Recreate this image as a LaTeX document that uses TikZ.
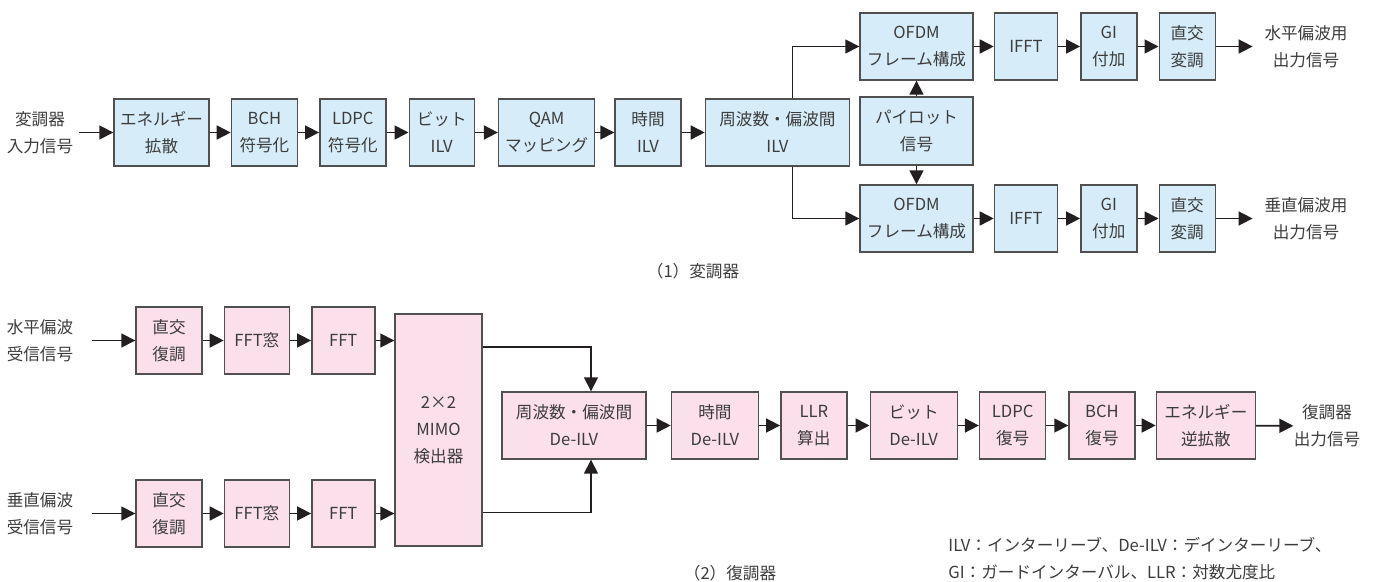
\documentclass[tikz,border=0pt]{standalone}
\usepackage{fontspec}
\setmainfont{Noto Sans CJK JP}
\usepackage{xcolor}
\usepackage{tikz}
\usetikzlibrary{arrows.meta,positioning}
\definecolor{txfill}{HTML}{D6EDF9}
\definecolor{rxfill}{HTML}{FBDFEA}
\definecolor{boxline}{HTML}{505050}
\definecolor{inkgray}{HTML}{3C3C3C}
\definecolor{wire}{HTML}{231F20}

\begin{document}
\begin{tikzpicture}[x=0.5pt, y=-0.5pt,
  font=\fontsize{8.3}{13.5}\selectfont, text=inkgray,
  tx/.style={draw=boxline, fill=txfill, line width=.7pt, minimum height=33.5pt, inner sep=0pt, align=center},
  rx/.style={draw=boxline, fill=rxfill, line width=.7pt, minimum height=33.5pt, inner sep=0pt, align=center},
  edge/.style={-{Triangle[length=7pt,width=7pt]}, draw=wire, line width=.8pt},
  sig/.style={align=center, inner sep=0pt},
  node distance=10.5pt
]
\useasboundingbox (0,0) rectangle (1382,582);
% (1) modulator
\node[sig] (in) at (40,132.5) {変調器\\入力信号};
\node[tx, minimum width=47.5pt] (es) at (161.5,132.5) {エネルギー\\拡散};
\node[tx, minimum width=33pt, right=of es] (bch) {BCH\\符号化};
\node[tx, minimum width=33pt, right=of bch] (ldpc) {LDPC\\符号化};
\node[tx, minimum width=32.5pt, right=11pt of ldpc] (bil) {ビット\\ILV};
\node[tx, minimum width=48pt, right=11.5pt of bil] (qam) {QAM\\マッピング};
\node[tx, minimum width=33pt, right=9.5pt of qam] (til) {時間\\ILV};
\node[tx, minimum width=72pt, right=11.5pt of til] (fil) {周波数・偏波間\\ILV};
\node[tx, minimum width=56.5pt, minimum height=34pt] (pil) at (916.5,131) {パイロット\\信号};
\node[tx, minimum width=56.5pt] (of1) at (916.5,46.5) {OFDM\\フレーム構成};
\node[tx, minimum width=31.5pt, right=10pt of of1] (if1) {IFFT};
\node[tx, minimum width=28pt, right=11pt of if1] (gi1) {GI\\付加};
\node[tx, minimum width=28pt, right=10.5pt of gi1] (qm1) {直交\\変調};
\node[sig] (out1) at (1306,46.5) {水平偏波用\\出力信号};
\node[tx, minimum width=56.5pt] (of2) at (916.5,218.5) {OFDM\\フレーム構成};
\node[tx, minimum width=31.5pt, right=10pt of of2] (if2) {IFFT};
\node[tx, minimum width=28pt, right=11pt of if2] (gi2) {GI\\付加};
\node[tx, minimum width=28pt, right=10.5pt of gi2] (qm2) {直交\\変調};
\node[sig] (out2) at (1306,218.5) {垂直偏波用\\出力信号};
\node (cap1) at (693,271) {（1）変調器};
\draw[edge, shorten <=2.5pt] (in) -- (es);
\foreach \a/\b in {es/bch,bch/ldpc,ldpc/bil,bil/qam,qam/til,til/fil,of1/if1,if1/gi1,gi1/qm1,of2/if2,if2/gi2,gi2/qm2,pil/of1,pil/of2}{\draw[edge] (\a)--(\b);}
\draw[edge, shorten >=5.75pt] (qm1) -- (out1);
\draw[edge, shorten >=5.75pt] (qm2) -- (out2);
\draw[edge] ([xshift=7.5pt]fil.north) |- (of1);
\draw[edge] ([xshift=7.5pt]fil.south) |- (of2);
% (2) demodulator
\node[sig] (inh) at (40,340.5) {水平偏波\\受信信号};
\node[rx, minimum width=33pt] (dm1) at (169,340.5) {直交\\復調};
\node[rx, minimum width=32.5pt, right=of dm1] (fw1) {FFT窓};
\node[rx, minimum width=31.5pt, right=of fw1] (ff1) {FFT};
\node[sig] (inv) at (40,513.5) {垂直偏波\\受信信号};
\node[rx, minimum width=33pt] (dm2) at (169,513.5) {直交\\復調};
\node[rx, minimum width=32.5pt, right=of dm2] (fw2) {FFT窓};
\node[rx, minimum width=31.5pt, right=of fw2] (ff2) {FFT};
\node[rx, minimum width=43.5pt, minimum height=116pt] (mimo) at (438.5,430) {2×2\\MIMO\\検出器};
\node[rx, minimum width=72pt] (fd) at (574,425.5) {周波数・偏波間\\De-ILV};
\node[rx, minimum width=43.5pt, right=12pt of fd] (td) {時間\\De-ILV};
\node[rx, minimum width=33pt, right=of td] (llr) {LLR\\算出};
\node[rx, minimum width=43.5pt, right=11pt of llr] (bd) {ビット\\De-ILV};
\node[rx, minimum width=33pt, right=of bd] (ld) {LDPC\\復号};
\node[rx, minimum width=33pt, right=11pt of ld] (bc) {BCH\\復号};
\node[rx, minimum width=49.5pt, right=10pt of bc] (ed) {エネルギー\\逆拡散};
\node[sig] (outd) at (1327,426) {復調器\\出力信号};
\node (cap2) at (730,573) {（2）復調器};
\node[align=left, anchor=west, inner sep=0pt] (note) at (948,558.5) {ILV：インターリーブ、De-ILV：デインターリーブ、\\GI：ガードインターバル、LLR：対数尤度比};
\draw[edge, shorten <=9pt] (inh) -- (dm1);
\draw[edge, shorten <=9pt] (inv) -- (dm2);
\foreach \a/\b in {dm1/fw1,fw1/ff1,dm2/fw2,fw2/ff2,fd/td,td/llr,llr/bd,bd/ld,ld/bc,bc/ed,ed/outd}{\draw[edge] (\a)--(\b);}
\draw[edge] (ff1) -- (ff1 -| mimo.west);
\draw[edge] (ff2) -- (ff2 -| mimo.west);
\draw[edge] ([yshift=-17pt]mimo.north east) -| ([xshift=8.5pt]fd.north);
\draw[edge] ([yshift=17pt]mimo.south east) -| ([xshift=8.5pt]fd.south);
\end{tikzpicture}
\end{document}
